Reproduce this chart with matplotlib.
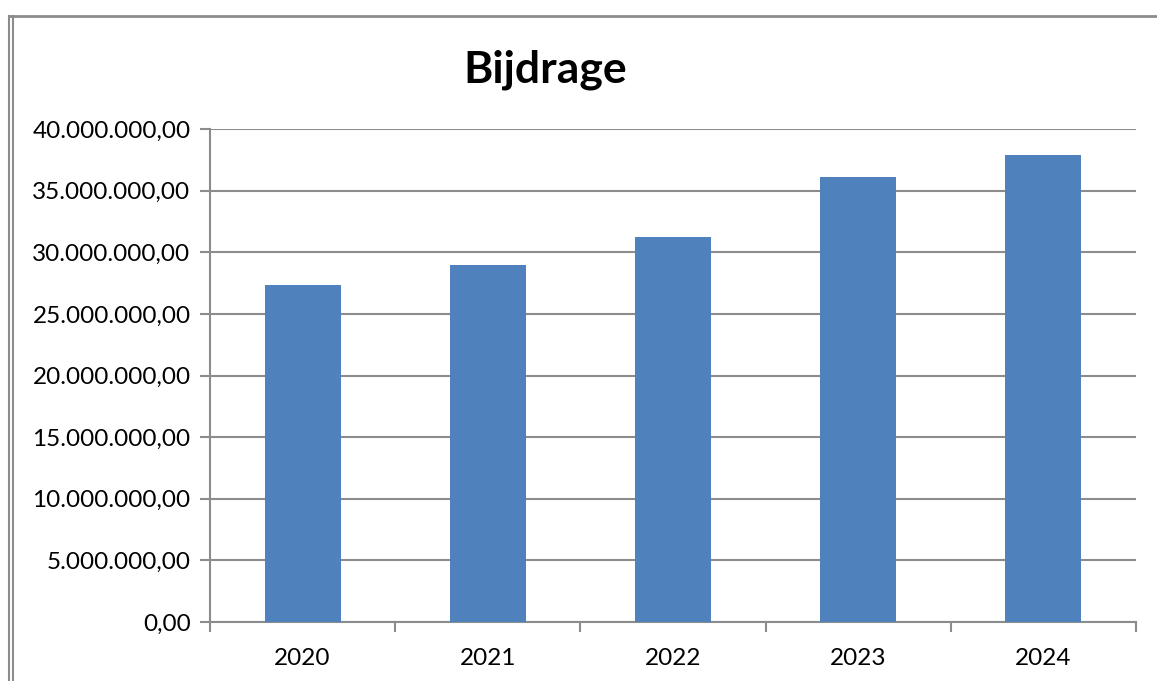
import matplotlib.pyplot as plt
from matplotlib.lines import Line2D
from matplotlib.ticker import FuncFormatter, MultipleLocator

years = ['2020', '2021', '2022', '2023', '2024']
bijdrage = [27330000, 28950000, 31200000, 36100000, 37900000]

plt.rcParams['font.family'] = ['Lato', 'DejaVu Sans']


def nl_format(v, pos):
    s = f'{v:,.2f}'
    return s.replace(',', 'X').replace('.', ',').replace('X', '.')


fig = plt.figure(figsize=(11.57, 6.81), dpi=100)
ax = fig.add_axes([0.1815, 0.0866, 0.8003, 0.724])

x = range(len(years))
ax.bar(x, bijdrage, width=0.41, color='#4F81BD', zorder=3)

ax.set_xlim(-0.5, len(years) - 0.5)
ax.set_ylim(0, 40000000)
ax.yaxis.set_major_locator(MultipleLocator(5000000))
ax.yaxis.set_major_formatter(FuncFormatter(nl_format))
ax.set_xticks(list(x))
ax.set_xticklabels(years)
ax.set_xticks([i - 0.5 for i in range(len(years) + 1)], minor=True)

grey = '#8c8c8c'
ax.grid(axis='y', color=grey, linewidth=1.5, zorder=0)
for side in ['top', 'right']:
    ax.spines[side].set_visible(False)
for side in ['left', 'bottom']:
    ax.spines[side].set_color(grey)
    ax.spines[side].set_linewidth(1.5)

ax.tick_params(axis='y', length=7, width=1.5, color=grey, labelsize=17.5, pad=7)
ax.tick_params(axis='x', which='major', length=0, labelsize=17.5, pad=19)
ax.tick_params(axis='x', which='minor', length=7, width=1.5, color=grey)

fig.text(0.471, 0.897, 'Bijdrage', ha='center', va='center',
         fontsize=32, fontweight='bold')

# chart area border (double line on the left)
fig.add_artist(Line2D([0.0075, 1.0], [0.977, 0.977], transform=fig.transFigure,
                      color='#8c8c8c', linewidth=2))
fig.add_artist(Line2D([0.0075, 0.0075], [0.0, 0.977], transform=fig.transFigure,
                      color='#8c8c8c', linewidth=1.5))
fig.add_artist(Line2D([0.0115, 0.0115], [0.0, 0.977], transform=fig.transFigure,
                      color='#8c8c8c', linewidth=1.5))

fig.savefig('out.png', dpi=100)
